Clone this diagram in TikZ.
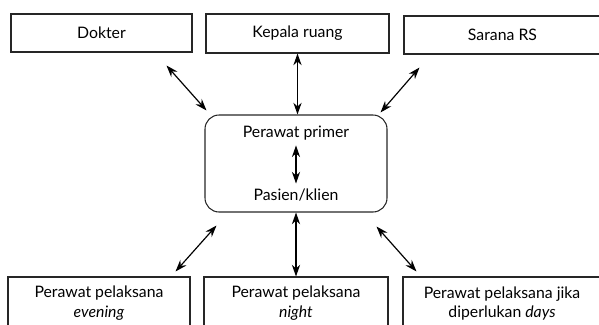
\documentclass[tikz,border=0pt]{standalone}
\usepackage{fontspec}
\setmainfont{Lato}
\usetikzlibrary{arrows.meta}

\begin{document}
\begin{tikzpicture}[x=0.03cm,y=-0.03cm,
    kotak/.style={draw=black!85,line width=0.9pt,font=\fontsize{13.5}{17}\selectfont,align=center,inner sep=0pt},
    panah/.style={{Stealth[length=10pt,width=7pt]}-{Stealth[length=10pt,width=7pt]},line width=1pt}]
      \clip (0,0) rectangle (599,324);
      % kotak atas
      \node[kotak,minimum width=181*0.03cm,minimum height=38*0.03cm] (dokter) at (101.5,33) {Dokter};
      \node[kotak,minimum width=183*0.03cm,minimum height=39*0.03cm] (karu) at (297.5,33.5) {Kepala ruang};
      \node[kotak,minimum width=197*0.03cm,minimum height=38*0.03cm] (sarana) at (502.5,35) {Sarana RS};
      % kotak tengah
      \node[kotak,rounded corners=12pt,minimum width=182*0.03cm,minimum height=97*0.03cm] (primer) at (296,163.5) {};
      \node[font=\fontsize{13.5}{17}\selectfont] (pp) at (296,133) {Perawat primer};
      \node[font=\fontsize{13.5}{17}\selectfont] (klien) at (296,195) {Pasien/klien};
      % kotak bawah
      \node[kotak,minimum width=182*0.03cm,minimum height=53*0.03cm] (evening) at (99,303.5) {Perawat pelaksana\\\textit{evening}};
      \node[kotak,minimum width=184*0.03cm,minimum height=53*0.03cm] (night) at (296,303.5) {Perawat pelaksana\\\textit{night}};
      \node[kotak,minimum width=198*0.03cm,minimum height=53*0.03cm] (days) at (502,303.5) {Perawat pelaksana jika\\diperlukan \textit{days}};
      % ujung panah miring
      \coordinate (d1) at ([shift={(-26,13)}]dokter.south east);
      \coordinate (d2) at ([shift={(2,-4)}]primer.north west);
      \coordinate (s1) at ([shift={(16,13)}]sarana.south west);
      \coordinate (s2) at ([shift={(-7,-2)}]primer.north east);
      \coordinate (e1) at ([shift={(-15,-5)}]evening.north east);
      \coordinate (e2) at ([shift={(12,13)}]primer.south west);
      \coordinate (n1) at ([shift={(14,-5)}]days.north west);
      \coordinate (n2) at ([shift={(-11,14)}]primer.south east);
      \draw[panah] (d1)--(d2);
      \draw[panah] (s1)--(s2);
      \draw[panah] (e1)--(e2);
      \draw[panah] (n1)--(n2);
      \draw[panah] (karu.south)--(karu.south|-primer.north);
      \draw[panah] (night.north)--(night.north|-primer.south);
      \draw[panah,shorten <=1pt,shorten >=1pt] (pp.south)--(klien.north);
\end{tikzpicture}
\end{document}
